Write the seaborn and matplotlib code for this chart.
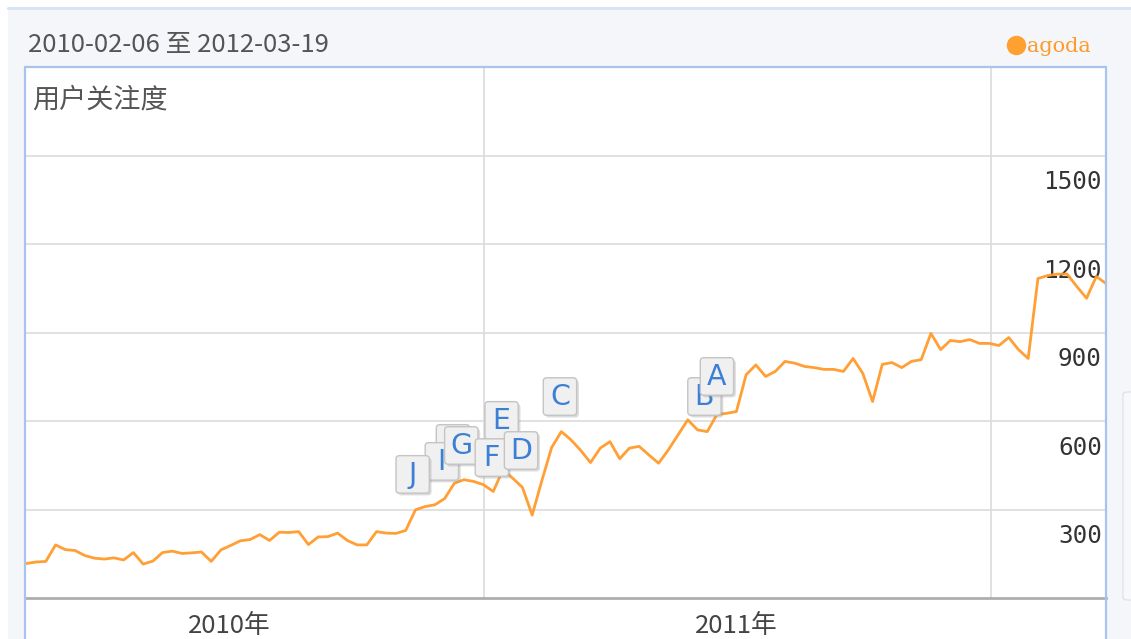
import matplotlib
matplotlib.use("Agg")
import matplotlib.pyplot as plt
from matplotlib.patches import Rectangle, FancyBboxPatch
from matplotlib.lines import Line2D
from matplotlib.offsetbox import DrawingArea, AnnotationBbox
from matplotlib.text import Text
import seaborn as sns
import pandas as pd

# ---- data -------------------------------------------------------------
start_date = "2010-02-06"
attention = [
    117, 122, 124, 180, 164, 161, 144, 135, 132, 136,
    129, 154, 115, 125, 154, 159, 151, 153, 156, 124,
    163, 178, 194, 198, 215, 195, 223, 222, 225, 181,
    207, 208, 220, 195, 180, 180, 225, 220, 219, 229,
    299, 310, 316, 337, 389, 401, 395, 384, 361, 435,
    406, 375, 281, 398, 510, 564, 536, 500, 459, 508,
    530, 472, 508, 514, 485, 457, 502, 553, 604, 570,
    564, 622, 626, 632, 757, 790, 751, 768, 802, 796,
    785, 781, 775, 775, 768, 812, 761, 666, 792, 798,
    781, 802, 808, 897, 842, 873, 869, 876, 863, 863,
    856, 883, 842, 812, 1083, 1093, 1098, 1098, 1056, 1016,
    1090, 1066,
]
dates = pd.date_range(start_date, periods=len(attention), freq="7D")
df = pd.DataFrame({"date": dates, "value": attention})

y_ticks = [300, 600, 900, 1200, 1500]
year_labels = ["2010年", "2011年"]
year_centers = ["2010-07-02", "2011-07-02"]
year_starts = ["2011-01-01", "2012-01-01"]

flag_letters = ["H", "I", "G", "J", "E", "F", "D", "C", "B", "A"]
flag_dates = ["2010-12-10", "2010-12-02", "2010-12-16", "2010-11-11", "2011-01-14",
              "2011-01-07", "2011-01-28", "2011-02-25", "2011-06-09", "2011-06-18"]
flag_levels = [524, 463, 517, 419, 602, 476, 500, 683, 683, 751]

title_text = "2010-02-06 至 2012-03-19"
ylabel_text = "用户关注度"
series_name = "agoda"

# ---- style ------------------------------------------------------------
sns.set_theme(style="white")
plt.rcParams["font.family"] = ["Noto Sans CJK SC", "DejaVu Sans"]

W, H = 1131, 639
fig = plt.figure(figsize=(W / 100, H / 100), dpi=100, facecolor="white")


def fx(px):
    return px / W


def fy(py):
    return 1 - py / H


ORANGE = "#ff9a2a"
BLUE_EDGE = "#a9c3ef"
GRID = "#dcdcdc"

# outer grey panel with a pale blue top rule
fig.patches.append(Rectangle((fx(8), 0), 1, fy(8), transform=fig.transFigure,
                             facecolor="#f4f6f9", edgecolor="none", zorder=0))
fig.lines.append(Line2D([fx(8), 1], [fy(8), fy(8)], transform=fig.transFigure,
                        color="#d8e3f5", lw=2.2, zorder=1))
# white chart panel framed in blue (extends below the axis line)
fig.patches.append(Rectangle((fx(25), 0), fx(1106) - fx(25), fy(67), transform=fig.transFigure,
                             facecolor="white", edgecolor="none", zorder=1))
for xs, ys in [([fx(25), fx(25)], [0, fy(67)]),
               ([fx(1106), fx(1106)], [0, fy(67)]),
               ([fx(25), fx(1106)], [fy(67), fy(67)])]:
    fig.lines.append(Line2D(xs, ys, transform=fig.transFigure, color=BLUE_EDGE, lw=1.6, zorder=5))
# side panel edge at far right
fig.patches.append(FancyBboxPatch((fx(1123), fy(600)), 0.05, fy(392) - fy(600),
                                  boxstyle="round,pad=0,rounding_size=0.004",
                                  transform=fig.transFigure, facecolor="#f7f8fa",
                                  edgecolor="#dfe3ea", lw=1.0, zorder=1))

ax = fig.add_axes([fx(25), fy(598), fx(1106) - fx(25), fy(67) - fy(598)])
ax.set_facecolor("white")
ax.patch.set_alpha(0)
ax.set_zorder(3)

sns.lineplot(data=df, x="date", y="value", ax=ax, color=ORANGE, lw=2.0,
             alpha=0.95, zorder=4)

ax.set_ylim(0, 1800)
ax.set_xlim(pd.Timestamp("2010-02-05"), pd.Timestamp("2012-03-24"))

for v in y_ticks:
    ax.axhline(v, color=GRID, lw=1.2, zorder=1)
    ax.annotate(str(v), xy=(1, v), xycoords=("axes fraction", "data"),
                xytext=(-3, -10.5), textcoords="offset points", ha="right", va="top",
                fontsize=17.5, color="#333333", family="DejaVu Sans Mono", zorder=2)
for d in year_starts:
    ax.axvline(pd.Timestamp(d), color=GRID, lw=1.2, zorder=1)

ax.set_xticks([pd.Timestamp(d) for d in year_centers])
ax.set_xticklabels(year_labels, fontsize=18.5, color="#444444")
ax.tick_params(axis="x", length=0, pad=11)
ax.set_yticks([])
ax.set_xlabel("")
ax.set_ylabel("")

for side in ["top", "left", "right"]:
    ax.spines[side].set_visible(False)
ax.spines["bottom"].set_color("#aeaeae")
ax.spines["bottom"].set_linewidth(2)

# event flags
BW, BH = 24, 27  # box size in points
for letter, d, lvl in zip(flag_letters, flag_dates, flag_levels):
    da = DrawingArea(BW, BH, 0, 0)
    da.add_artist(FancyBboxPatch((1.6, -1.6), BW, BH, boxstyle="round,pad=0,rounding_size=2.5",
                                 facecolor="#9a9a9a", edgecolor="none", alpha=0.35))
    da.add_artist(FancyBboxPatch((0, 0), BW, BH, boxstyle="round,pad=0,rounding_size=2.5",
                                 facecolor="#f0f0f0", edgecolor="#c4c4c4", lw=1.0))
    da.add_artist(Text(BW / 2, BH / 2 - 0.5, letter, ha="center", va="center",
                       fontsize=20.5, color="#3c7fd6", family="DejaVu Sans"))
    ab = AnnotationBbox(da, (pd.Timestamp(d), lvl), xycoords="data", frameon=False,
                        box_alignment=(0.5, 0.5), pad=0, zorder=6)
    ax.add_artist(ab)

# header texts
fig.text(fx(28), fy(45), title_text, ha="left", va="center", fontsize=18.5,
         color="#555555", zorder=10)
fig.text(fx(32), fy(100), ylabel_text, ha="left", va="center", fontsize=19.5,
         color="#555555", zorder=10)
fig.lines.append(Line2D([fx(1016)], [fy(45)], transform=fig.transFigure, marker="o",
                        markersize=13, color="#ffa030", lw=0, zorder=10))
fig.text(fx(1027), fy(47), series_name, ha="left", va="center", fontsize=15,
         color=ORANGE, family="DejaVu Serif", zorder=10)

fig.savefig("out.png", dpi=100, facecolor=fig.get_facecolor())
